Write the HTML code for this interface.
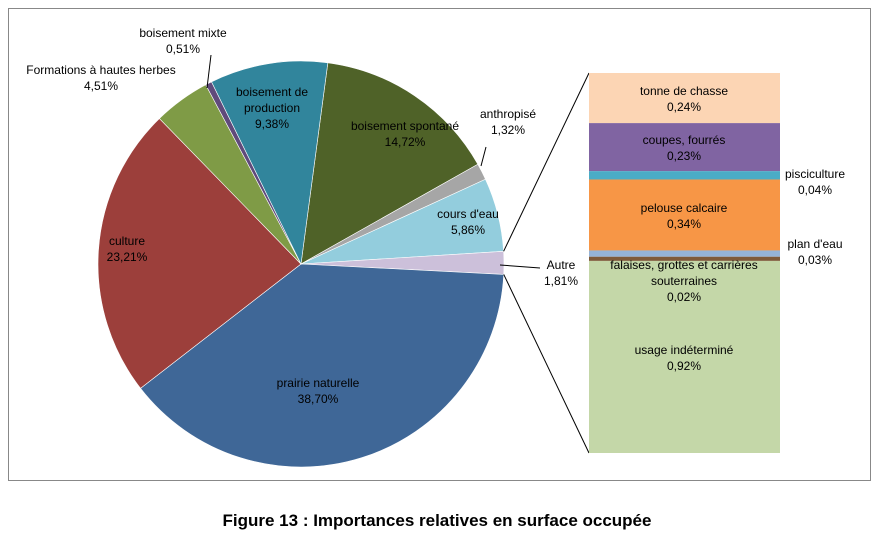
<!DOCTYPE html>
<html><head><meta charset="utf-8"><style>
body{margin:0;background:#fff;width:881px;height:544px;overflow:hidden;font-family:"Liberation Sans",sans-serif}
</style></head><body>
<svg id="chart" width="881" height="544" xmlns="http://www.w3.org/2000/svg" font-family="Liberation Sans, sans-serif">
<rect x="8.5" y="8.5" width="862" height="472" fill="#fff" stroke="#888" stroke-width="1"/>
<text x="437" y="526" text-anchor="middle" font-size="17" font-weight="bold" fill="#000">Figure 13 : Importances relatives en surface occupée</text>
</svg>
<script>
const pieLabels=["boisement spontané","anthropisé","cours d'eau","Autre","prairie naturelle","culture","Formations à hautes herbes","boisement mixte","boisement de production"];
const pieValues=[14.72,1.32,5.86,1.81,38.70,23.21,4.51,0.51,9.38];
const pieText=["14,72%","1,32%","5,86%","1,81%","38,70%","23,21%","4,51%","0,51%","9,38%"];
const pieColors=["#4f6228","#a6a6a6","#93cddd","#ccc0da","#3f6797","#9c3f3b","#7f9b46","#604a7b","#31859c"];
const barLabels=["tonne de chasse","coupes, fourrés","pisciculture","pelouse calcaire","plan d'eau","falaises, grottes et carrières souterraines","usage indéterminé"];
const barValues=[0.24,0.23,0.04,0.34,0.03,0.02,0.92];
const barText=["0,24%","0,23%","0,04%","0,34%","0,03%","0,02%","0,92%"];
const barColors=["#fcd5b4","#8064a2","#4bacc6","#f79646","#95b3d7","#7f5a3a","#c4d7a8"];

const svg=document.getElementById('chart');const NS="http://www.w3.org/2000/svg";
function mk(t,a,p){const e=document.createElementNS(NS,t);for(const k in a)e.setAttribute(k,a[k]);(p||svg).appendChild(e);return e;}
const cx=301,cy=264,R=203,start=7.6;
const total=pieValues.reduce((a,b)=>a+b,0);
function pt(deg,r){const a=(deg-90)*Math.PI/180;return [cx+r*Math.cos(a),cy+r*Math.sin(a)];}
let ang=start;const angles=[];
pieValues.forEach((v,i)=>{
  const sw=v/total*360;const a0=ang,a1=ang+sw;angles.push([a0,a1]);
  const p0=pt(a0,R),p1=pt(a1,R);
  const s=mk('path',{d:`M${cx},${cy}L${p0[0]},${p0[1]}A${R},${R} 0 ${sw>180?1:0} 1 ${p1[0]},${p1[1]}Z`,fill:pieColors[i],stroke:'#fff','stroke-width':0.6});
  
  
  ang=a1;
});
// label positions (text placement only)
const labPos=[[405,130,'#000'],[508,118,'#000'],[468,218,'#000'],[561,269,'#000'],[318,387,'#000'],[127,245,'#000'],[101,74,'#000'],[183,37,'#000'],[272,96,'#000']];
const labLines=[null,null,null,null,null,null,null,null,["boisement de","production"]];
function txt(x,y,lines,name,anchor){
  const t=mk('text',{x:x,y:y,'text-anchor':anchor||'middle','font-size':12,fill:'#000'});
  
  
  lines.forEach((l,k)=>{const s=mk('tspan',{x:x,dy:k?16:0},t);s.textContent=l;});
}
pieLabels.forEach((l,i)=>{
  const lines=(labLines[i]||[l]).concat([pieText[i]]);
  txt(labPos[i][0],labPos[i][1],lines,'label-'+l.toLowerCase().replace(/[^a-z]+/g,'-'));
});
// leader lines
mk('path',{d:'M481,166 L486,147',stroke:'#000',fill:'none','stroke-width':1,});
mk('path',{d:'M500,265 L540,268',stroke:'#000',fill:'none','stroke-width':1,});
mk('path',{d:'M207,88 L211,55',stroke:'#000',fill:'none','stroke-width':1,});
// bar
const bx=589,bw=191,by=73,bh=380;
const btot=barValues.reduce((a,b)=>a+b,0);
const autre=angles[3];const pa=pt(autre[0],R),pb=pt(autre[1],R);
mk('line',{x1:pa[0],y1:pa[1],x2:bx,y2:by,stroke:'#000','stroke-width':1,});
mk('line',{x1:pb[0],y1:pb[1],x2:bx,y2:by+bh,stroke:'#000','stroke-width':1,});
let yy=by;const segs=[];
barValues.forEach((v,i)=>{
  const h=v/btot*bh;
  const r=mk('rect',{x:bx,y:yy,width:bw,height:h,fill:barColors[i]});
  
  
  segs.push([yy,h]);yy+=h;
});
barLabels.forEach((l,i)=>{
  const [y0,h]=segs[i];const nm='bar-label-'+l.split(' ')[0].replace(/[^a-z]/gi,'');
  if(i===2){txt(815,178,[l,barText[i]],nm);}
  else if(i===4){txt(815,248,[l,barText[i]],nm);}
  else if(i===5){txt(684,269,["falaises, grottes et carrières","souterraines",barText[i]],nm);}
  else if(i===6){txt(684,354,[l,barText[i]],nm);}
  else txt(684,y0+h/2-3,[l,barText[i]],nm);
});
</script>
</body></html>
